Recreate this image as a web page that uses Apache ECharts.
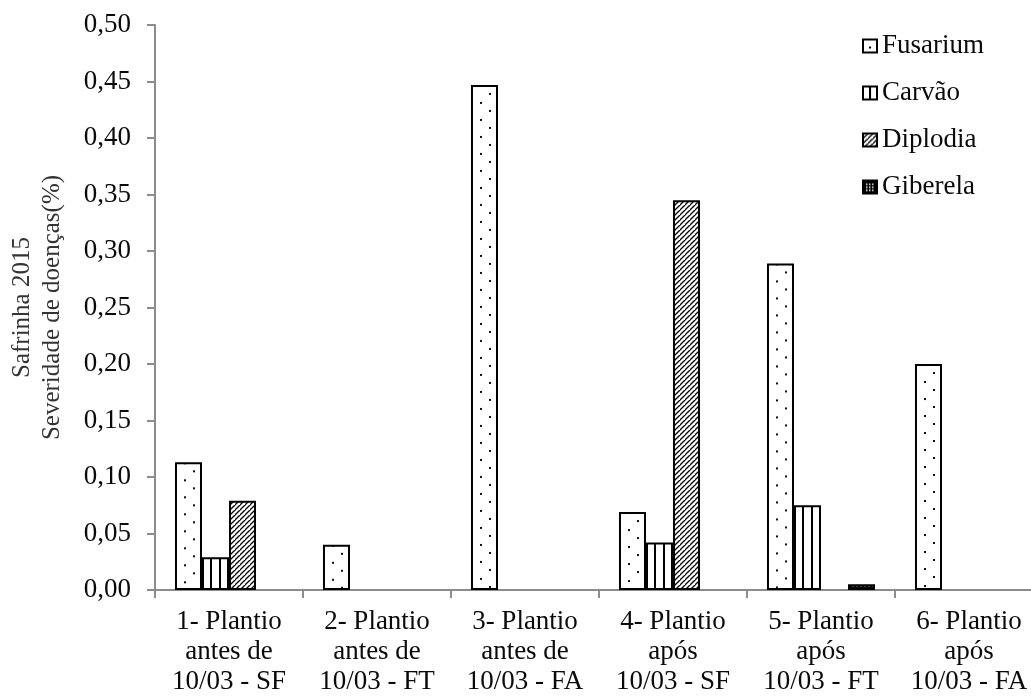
<!DOCTYPE html>
<html>
<head>
<meta charset="utf-8">
<script src="https://cdn.jsdelivr.net/npm/echarts@6/dist/echarts.min.js"></script>
<style>
  html, body { margin: 0; padding: 0; background: #fff; }
  #chart { width: 1031px; height: 700px; }
</style>
</head>
<body>
<div id="chart"></div>
<script>
// Disease severity, safrinha 2015, by planting period
const categories = [
  '1- Plantio\nantes de\n10/03 - SF',
  '2- Plantio\nantes de\n10/03 - FT',
  '3- Plantio\nantes de\n10/03 - FA',
  '4- Plantio\napós\n10/03 - SF',
  '5- Plantio\napós\n10/03 - FT',
  '6- Plantio\napós\n10/03 - FA'
];
const seriesNames = ['Fusarium', 'Carvão', 'Diplodia', 'Giberela'];
const fusarium = [0.113, 0.040, 0.447, 0.069, 0.289, 0.200];
const carvao   = [0.029, 0,     0,     0.042, 0.075, 0];
const diplodia = [0.079, 0,     0,     0.345, 0,     0];
const giberela = [0,     0,     0,     0,     0.005, 0];
const yTicks = [0, 0.05, 0.10, 0.15, 0.20, 0.25, 0.30, 0.35, 0.40, 0.45, 0.50];

const FONT = '"Liberation Serif", "Times New Roman", serif';
const INK = '#0a0a0a';
const AXIS = '#8c8c8c';

// Canvas tiles used as bar fills
function tile(w, h, draw) {
  const c = document.createElement('canvas');
  c.width = w; c.height = h;
  const ctx = c.getContext('2d');
  draw(ctx, w, h);
  return c;
}
const dotsTile = tile(18, 17, (ctx, w, h) => {
  ctx.fillStyle = '#fff'; ctx.fillRect(0, 0, w, h);
  ctx.fillStyle = '#111';
  ctx.fillRect(10, 0, 2, 2);
  ctx.fillRect(1, 8, 2, 2);
});
const vlinesTile = tile(9, 4, (ctx, w, h) => {
  ctx.fillStyle = '#fff'; ctx.fillRect(0, 0, w, h);
  ctx.fillStyle = '#000';
  ctx.fillRect(0, 0, 2, h);
});
const hatchTile = tile(5, 5, (ctx, w, h) => {
  ctx.fillStyle = '#fff'; ctx.fillRect(0, 0, w, h);
  ctx.strokeStyle = '#000'; ctx.lineWidth = 1.3;
  ctx.beginPath();
  ctx.moveTo(-1, h + 1); ctx.lineTo(w + 1, -1);
  ctx.moveTo(-1 - w, h + 1); ctx.lineTo(1, -1);
  ctx.moveTo(w - 1, 2 * h + 1); ctx.lineTo(2 * w + 1, h - 1);
  ctx.stroke();
});
const darkDotsTile = tile(4, 3, (ctx, w, h) => {
  ctx.fillStyle = '#000'; ctx.fillRect(0, 0, w, h);
  ctx.fillStyle = '#fff';
  ctx.fillRect(1, 1, 2, 1);
});
const tiles = [dotsTile, vlinesTile, hatchTile, darkDotsTile];
const values = [fusarium, carvao, diplodia, giberela];

// Small swatches for the legend keys
const keyW = 14, keyH = 13;
const keyTiles = [
  tile(keyW, keyH, (ctx, w, h) => {
    ctx.fillStyle = '#fff'; ctx.fillRect(0, 0, w, h);
    ctx.fillStyle = '#000'; ctx.fillRect(6, 7, 2, 2);
  }),
  tile(keyW, keyH, (ctx, w, h) => {
    ctx.fillStyle = '#fff'; ctx.fillRect(0, 0, w, h);
    ctx.fillStyle = '#000'; ctx.fillRect(6, 0, 2, h);
  }),
  hatchTile,
  tile(keyW, keyH, (ctx, w, h) => {
    ctx.fillStyle = '#000'; ctx.fillRect(0, 0, w, h);
    ctx.fillStyle = '#fff';
    for (const x of [3, 6, 9]) for (const y of [3, 6, 9]) ctx.fillRect(x, y, 1.5, 1.5);
  })
];

function pattern(img, x, y) {
  const p = { image: img, repeat: 'repeat' };
  if (x !== undefined) { p.x = x; p.y = y; }
  return p;
}

const chart = echarts.init(document.getElementById('chart'), null, { renderer: 'canvas' });

function buildSeries(layouts) {
  return seriesNames.map((name, i) => ({
    name: name,
    type: 'bar',
    data: values[i].map((v, j) => {
      if (v === 0) return '-';
      const lay = layouts && layouts[i] && layouts[i][j];
      if (lay && i !== 2) {
        // anchor dots / stripes to each bar's own left and top edge
        return { value: v, itemStyle: { color: pattern(tiles[i], lay.x - 1, lay.top) } };
      }
      return v;
    }),
    barGap: '0%',
    barCategoryGap: '27%',
    itemStyle: {
      color: pattern(tiles[i]),
      borderColor: '#000',
      borderWidth: 2
    },
    emphasis: { disabled: true },
    animation: false
  }));
}

chart.setOption({
  backgroundColor: '#fff',
  animation: false,
  textStyle: { fontFamily: FONT },
  grid: { left: 155, right: -12, top: 25, bottom: 110, containLabel: false, outerBoundsMode: 'none' },
  legend: {
    orient: 'vertical',
    left: 857,
    top: 27,
    itemWidth: keyW,
    itemHeight: keyH,
    itemGap: 19,
    icon: 'rect',
    selectedMode: false,
    textStyle: { fontFamily: FONT, fontSize: 27, lineHeight: 28, color: INK },
    itemStyle: { borderColor: '#000', borderWidth: 2 },
    data: seriesNames.map((name, i) => ({
      name: name,
      itemStyle: { color: pattern(keyTiles[i]), borderColor: '#000', borderWidth: 2 }
    }))
  },
  xAxis: {
    type: 'category',
    data: categories,
    axisLine: { lineStyle: { color: AXIS, width: 2 } },
    axisTick: { show: true, length: 8, lineStyle: { color: AXIS, width: 2 } },
    axisLabel: {
      interval: 0,
      margin: 17,
      fontFamily: FONT,
      fontSize: 27,
      lineHeight: 30,
      color: INK,
      align: 'center'
    }
  },
  yAxis: {
    type: 'value',
    min: yTicks[0],
    max: yTicks[yTicks.length - 1],
    interval: 0.05,
    name: 'Safrinha 2015\nSeveridade de doenças(%)',
    nameLocation: 'middle',
    nameGap: 88,
    nameRotate: 90,
    nameTextStyle: { fontFamily: FONT, fontSize: 25, color: '#333', lineHeight: 30 },
    splitLine: { show: false },
    axisLine: { show: true, lineStyle: { color: AXIS, width: 2 } },
    axisTick: { show: true, length: 8, lineStyle: { color: AXIS, width: 2 } },
    axisLabel: {
      margin: 24,
      fontFamily: FONT,
      fontSize: 27,
      color: INK,
      formatter: v => v.toFixed(2).replace('.', ',')
    }
  },
  series: buildSeries(null)
});

// Second pass: read each bar's laid-out rectangle so fills start at its edge
const layouts = seriesNames.map((_, i) => {
  const data = chart.getModel().getSeriesByIndex(i).getData();
  return values[i].map((v, j) => {
    const l = data.getItemLayout(j);
    if (!l) return null;
    return { x: l.x, top: Math.min(l.y, l.y + l.height) };
  });
});
chart.setOption({ series: buildSeries(layouts) });
</script>
</body>
</html>
